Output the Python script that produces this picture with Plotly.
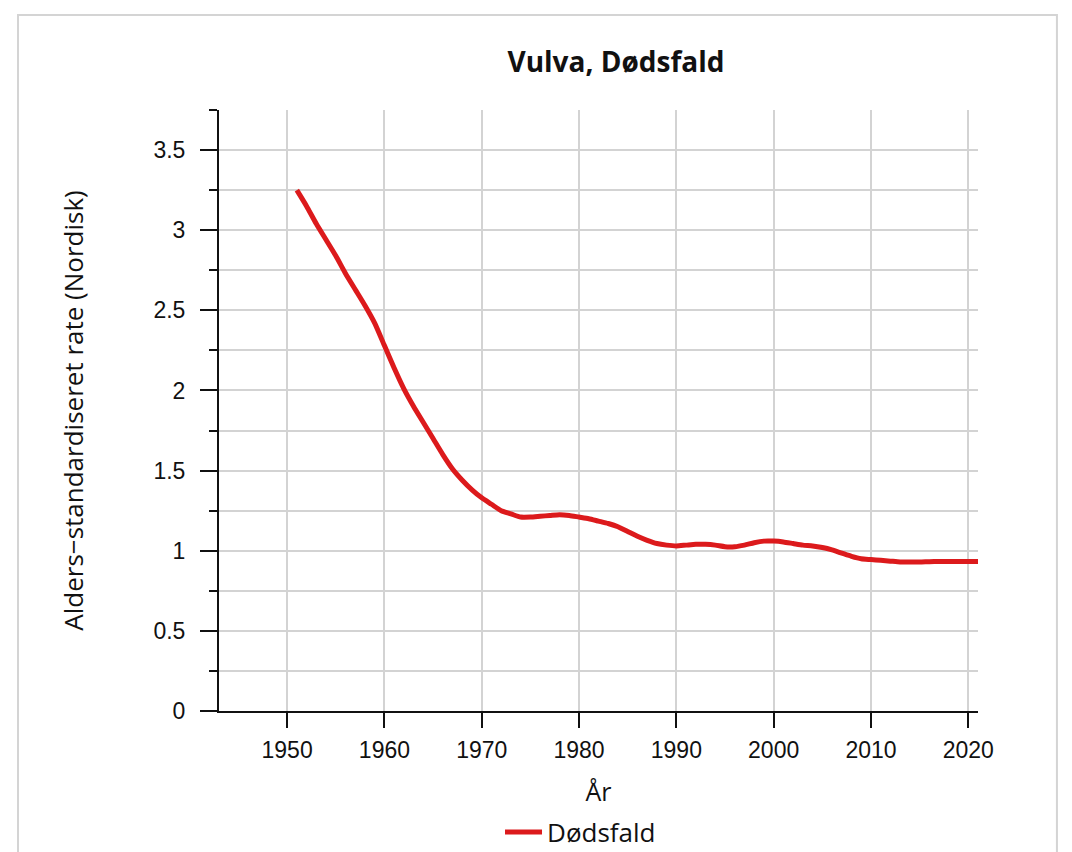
import plotly.graph_objects as go

years = list(range(1951, 2022))
rate = [
    3.25, 3.15, 3.04, 2.94, 2.84, 2.73, 2.63, 2.53, 2.42, 2.28,   # 1951-1960
    2.14, 2.01, 1.90, 1.80, 1.70, 1.60, 1.51, 1.44, 1.38, 1.33,   # 1961-1970
    1.29, 1.25, 1.23, 1.21, 1.21, 1.215, 1.22, 1.225, 1.22, 1.21,  # 1971-1980
    1.20, 1.185, 1.17, 1.15, 1.12, 1.09, 1.065, 1.045, 1.035, 1.03,  # 1981-1990
    1.035, 1.04, 1.04, 1.035, 1.025, 1.025, 1.035, 1.05, 1.06, 1.06,  # 1991-2000
    1.055, 1.045, 1.035, 1.03, 1.02, 1.005, 0.985, 0.965, 0.95, 0.945,  # 2001-2010
    0.94, 0.935, 0.93, 0.93, 0.93, 0.932, 0.933, 0.933, 0.933, 0.933,  # 2011-2020
    0.933,  # 2021
]
x_ticks = list(range(1950, 2021, 10))
y_ticks = [0, 0.5, 1, 1.5, 2, 2.5, 3, 3.5]
y_ticktext = ["0", "0.5", "1", "1.5", "2", "2.5", "3", "3.5"]

tick_font = dict(family="Liberation Sans, Arial", size=23, color="#111")
text_font = "Open Sans, Noto Sans, sans-serif"

fig = go.Figure()
fig.add_trace(go.Scatter(
    x=years, y=rate, mode="lines", name="Dødsfald",
    line=dict(color="#dc1a1c", width=5, shape="spline", smoothing=0.6),
))

# light grey frame around the whole chart
fig.add_shape(type="rect", xref="paper", yref="paper",
              x0=-0.2648, x1=1.104, y0=-0.4, y1=1.158,
              line=dict(color="#d4d4d4", width=2), layer="below")

fig.update_layout(
    width=1072, height=852,
    margin=dict(l=211, r=102, t=102, b=149),
    paper_bgcolor="white", plot_bgcolor="white",
    title=dict(text="<b>Vulva, Dødsfald</b>", x=0.523, xref="paper",
               xanchor="center", y=1 - 54 / 852, yanchor="middle",
               font=dict(family=text_font, size=28, color="#111")),
    xaxis=dict(
        range=[1943, 2021], tickvals=x_ticks, automargin=False,
        ticks="outside", ticklen=15, tickwidth=2, tickcolor="#111",
        ticklabelstandoff=2,
        showline=True, linecolor="#111", linewidth=2,
        showgrid=True, gridcolor="#d3d3d3", gridwidth=2,
        zeroline=False, tickfont=tick_font,
        title=dict(text="År", font=dict(family=text_font, size=25, color="#111"),
                   standoff=25),
    ),
    yaxis=dict(
        range=[0, 3.75], tickvals=y_ticks, ticktext=y_ticktext,
        automargin=False,
        ticks="outside", ticklen=17, tickwidth=2, tickcolor="#111",
        ticklabelstandoff=10,
        showline=True, linecolor="#111", linewidth=2,
        showgrid=True, gridcolor="#d3d3d3", gridwidth=2,
        zeroline=False, tickfont=tick_font,
        minor=dict(dtick=0.25, tick0=0, ticks="outside", ticklen=8,
                   tickwidth=2, tickcolor="#111", showgrid=True,
                   gridcolor="#d3d3d3", gridwidth=2),
        title=dict(text="Alders−standardiseret rate (Nordisk)",
                   font=dict(family=text_font, size=26, color="#111"),
                   standoff=62),
    ),
    showlegend=True,
    legend=dict(orientation="h", x=0.4763, xanchor="center",
                y=(852 - 824) / 852, yref="container", yanchor="middle",
                itemwidth=37,
                font=dict(family=text_font, size=26, color="#111")),
)

fig.write_html("out.html")
